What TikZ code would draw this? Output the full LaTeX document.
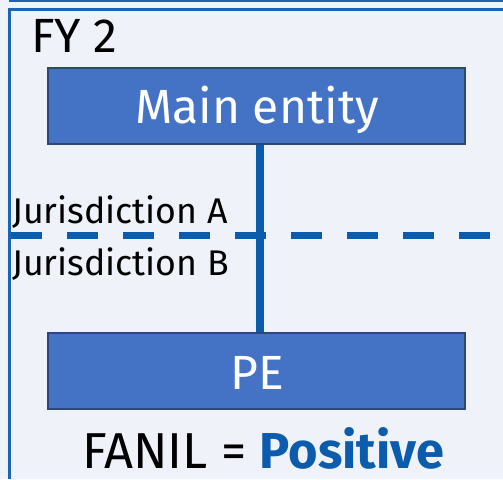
\documentclass[tikz,border=0pt]{standalone}
\usepackage{fontspec}
\setmainfont{Fira Sans}
\definecolor{pagebg}{HTML}{EFF3F9}
\definecolor{framecol}{HTML}{1A64B4}
\definecolor{boxfill}{HTML}{4472C4}
\definecolor{boxedge}{HTML}{2E4673}
\definecolor{linkcol}{HTML}{0B5CAD}
\tikzset{
  entitybox/.style={draw=boxedge, line width=2pt, fill=boxfill, minimum width=417pt,
    minimum height=76pt, inner sep=0pt},
  boxlabel/.style={inner sep=0pt, anchor=base, text=white, font=\fontsize{48}{48}\selectfont},
  juris/.style={anchor=base west, inner sep=0pt, font=\fontsize{35.7}{36}\selectfont},
  bigtext/.style={inner sep=0pt, font=\fontsize{48}{48}\selectfont},
  link/.style={draw=linkcol, line width=8pt}
}
\begin{document}
\begin{tikzpicture}[x=1pt,y=1pt]
  % page and frames
  \fill[pagebg] (0,0) rectangle (503,-479);
  \useasboundingbox (0,0) rectangle (503,-479);
  \draw[framecol, line width=1.6pt] (9,-0.8) -- (503,-0.8);
  \draw[framecol, line width=3pt] (9.5,-479) -- (9.5,-9.5) -- (503,-9.5);
  \node[bigtext, anchor=base west] (fy) at (31,-52) {FY 2};
  % jurisdiction divider
  \coordinate (divL) at (11,-235.5);
  \coordinate (divR) at (503,-235.5);
  \draw[linkcol, line width=7pt, dash pattern=on 31pt off 25pt] (divL) -- (divR);
  \node[juris] (ja) at (12,-223) {Jurisdiction A};
  \node[juris] (jb) at (12,-275) {Jurisdiction B};
  % entities
  \node[entitybox] (main) at (256.5,-106) {};
  \node[boxlabel] (mainlbl) at (257,-123) {Main entity};
  \node[entitybox] (pe) at (256.5,-371) {};
  \node[boxlabel] (pelbl) at (257,-389) {PE};
  \draw[link] (main.south -| 260,0) -- (pe.north -| 260,0);
  \node[inner sep=0pt, anchor=base, text depth=0pt, font=\fontsize{50.5}{50}\selectfont] (fanil)
    at (263,-468) {FANIL = \textcolor{linkcol}{\bfseries Positive}};
\end{tikzpicture}
\end{document}
